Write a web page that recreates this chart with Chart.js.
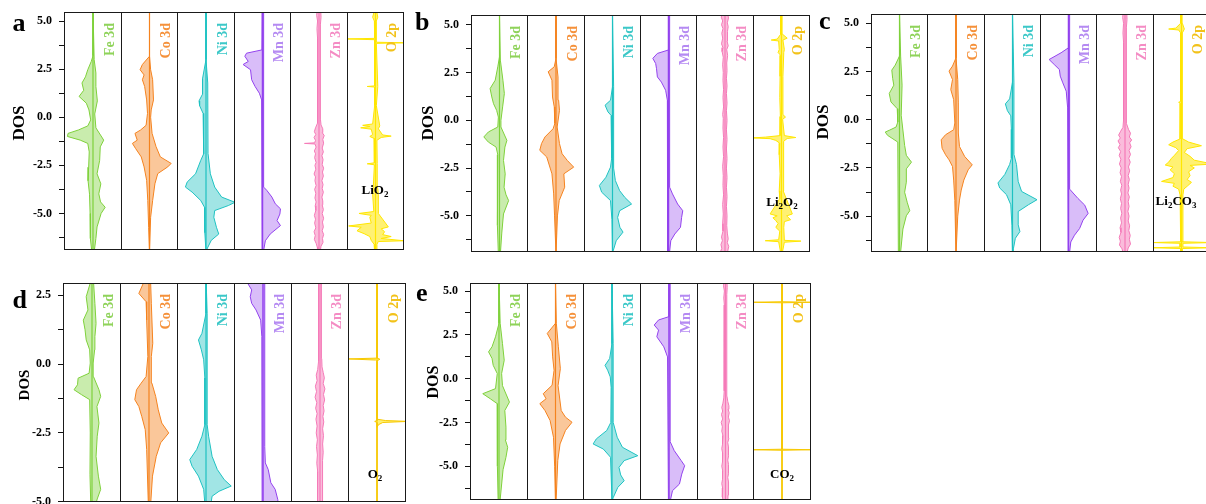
<!DOCTYPE html>
<html><head><meta charset="utf-8">
<script src="https://cdn.jsdelivr.net/npm/chart.js@4.4.1/dist/chart.umd.min.js"></script>
<style>
html,body{margin:0;padding:0;background:#fff;}
#wrap{position:relative;width:1206px;height:504px;overflow:hidden;background:#fff;font-family:"Liberation Serif","Times New Roman",serif;}
canvas{position:absolute;}
.plet{position:absolute;font-weight:bold;font-size:26px;line-height:26px;color:#000;}
.dos{position:absolute;font-weight:bold;color:#000;transform:translate(-50%,-50%) rotate(-90deg);white-space:nowrap;}
.cmp{position:absolute;font-weight:bold;font-size:13px;color:#000;transform:translate(-50%,-50%);white-space:nowrap;}
.cmp sub{font-size:9px;vertical-align:-3px;line-height:0;}
</style></head>
<body><div id="wrap"></div>
<script>
// ---------- category / tick data ----------
const elements = ['Fe 3d','Co 3d','Ni 3d','Mn 3d','Zn 3d','O 2p'];
const yMajor = [5.0, 2.5, 0.0, -2.5, -5.0];
const yMinor = [3.75, 1.25, -1.25, -3.75, -6.25];
const yMajorD = [2.5, 0.0, -2.5, -5.0];
const yMinorD = [1.25, -1.25, -3.75];
const compounds = ['LiO<sub>2</sub>','Li<sub>2</sub>O<sub>2</sub>','Li<sub>2</sub>CO<sub>3</sub>','O<sub>2</sub>','CO<sub>2</sub>'];

// ---------- DOS data: [energy (eV), DOS] for spin-up (left) and spin-down (right) ----------
// panel a
const aFeUp=[[5.6,0],[3.2,0],[2.9,0.6],[2.47,1.8],[2.1,2.6],[1.78,3.8],[1.4,3.2],[1.08,4.8],[0.73,2.3],[0.38,1.4],[-0.14,0.8],[-0.45,1.8],[-0.66,5],[-0.84,8.6],[-1.0,8.8],[-1.19,4.4],[-1.36,1.8],[-1.8,1.3],[-2.6,1.5],[-3.3,1.7],[-4.0,1.2],[-5.0,1.0],[-5.8,0.8],[-6.3,1.0],[-7,0.4]];
const aFeDn=[[5.6,0],[3.0,0.4],[2.3,1.0],[1.6,1.0],[0.85,1.5],[0.17,0.6],[-0.55,1.0],[-1.19,3.7],[-1.54,2.5],[-2.24,2.3],[-2.94,1.4],[-3.46,2.7],[-3.98,2.0],[-4.4,2.6],[-4.68,4.2],[-5.0,2.8],[-5.7,1.4],[-6.3,1.0],[-7,0.4]];
const aCoUp=[[5.6,0],[3.17,0],[2.74,2.5],[2.47,3.3],[2.2,1.9],[1.95,2.5],[1.6,1.7],[0.9,1.0],[0.2,0.7],[-0.42,1.2],[-0.66,3.1],[-0.84,5.1],[-1.19,4.3],[-1.36,6],[-1.62,4.9],[-2.06,2.9],[-2.58,1.9],[-3.28,1.0],[-4.33,0.6],[-5.72,0.3],[-7,0]];
const aCoDn=[[5.6,0],[3.17,0],[2.47,0.4],[1.95,1.1],[0.9,1.4],[0.38,0.6],[0,0.4],[-0.84,0.9],[-1.53,2.3],[-2.06,3.8],[-2.4,7.6],[-2.58,6.4],[-2.93,2.9],[-3.46,1.9],[-4.33,1.1],[-5.2,0.4],[-7,0.1]];
const aNiUp=[[5.6,0],[3.0,0],[2.0,1.2],[1.2,1.2],[0.85,2.4],[0.6,2.2],[0.2,1.0],[-0.5,0.8],[-1.9,0.8],[-2.24,1.8],[-2.94,3.6],[-3.37,6.5],[-3.63,7.1],[-3.89,4.8],[-4.33,1.8],[-4.68,0.5],[-5.2,0.4],[-6.0,0.4],[-7,0]];
const aNiDn=[[5.6,0],[3.0,0],[1.78,0.6],[-1.88,0.7],[-2.94,1.5],[-3.63,3.0],[-4.15,5.4],[-4.42,10],[-4.59,7.7],[-4.85,3.0],[-5.2,2.7],[-5.72,3.6],[-6.07,4.4],[-6.4,1.8],[-6.8,0.5],[-7,0.3]];
const aMnUp=[[5.6,0.1],[3.5,0.2],[3.33,5.6],[3.17,6.2],[2.9,5.0],[2.74,6.8],[2.47,4.2],[1.95,3.8],[1.6,2.6],[1.25,1.1],[0.9,0.3],[-7,0.1]];
const aMnDn=[[5.6,0.4],[-3.63,0.4],[-3.8,1.5],[-4.15,3.3],[-4.5,4.5],[-4.76,6.3],[-5.03,6.1],[-5.37,5.1],[-5.63,6.3],[-6.07,2.7],[-6.42,1.0],[-7,0.3]];
const aZnUp=[[5.6,0.6],[5.3,0.8],[5.0,0.5],[4.6,0.7],[4.1,0.5],[3.7,0.6],[3.2,0.4],[2.6,0.5],[2.0,0.4],[1.4,0.5],[0.8,0.4],[0.2,0.5],[-0.3,0.6],[-0.55,1.2],[-0.75,1.6],[-0.9,1.1],[-1.05,1.7],[-1.2,1.2],[-1.33,1.5],[-1.36,5.0],[-1.39,1.4],[-1.55,1.0],[-1.75,1.6],[-1.9,1.2],[-2.1,1.5],[-2.35,1.0],[-2.5,1.4],[-2.7,1.1],[-2.95,1.7],[-3.1,1.2],[-3.3,1.4],[-3.55,1.0],[-3.75,1.5],[-3.95,1.1],[-4.2,1.4],[-4.4,1.0],[-4.6,1.3],[-4.85,1.1],[-5.1,1.6],[-5.3,1.2],[-5.5,1.5],[-5.75,1.1],[-5.95,1.7],[-6.15,1.3],[-6.35,1.6],[-6.55,1.0],[-6.75,0.6],[-7,0.4]];
const aZnDn=[[5.6,0.6],[5.2,0.7],[4.8,0.5],[4.3,0.6],[3.9,0.4],[3.4,0.6],[2.9,0.4],[2.3,0.5],[1.7,0.4],[1.1,0.5],[0.5,0.4],[-0.1,0.5],[-0.4,0.7],[-0.6,1.3],[-0.8,1.1],[-0.95,1.8],[-1.15,1.3],[-1.35,1.6],[-1.6,1.1],[-1.8,1.5],[-2.0,1.0],[-2.2,1.4],[-2.45,1.1],[-2.65,1.6],[-2.85,1.2],[-3.05,1.5],[-3.3,1.0],[-3.5,1.4],[-3.7,1.1],[-3.9,1.5],[-4.15,1.0],[-4.35,1.3],[-4.55,1.1],[-4.8,1.5],[-5.0,1.1],[-5.25,1.6],[-5.45,1.2],[-5.7,1.5],[-5.9,1.1],[-6.1,1.6],[-6.3,1.2],[-6.5,1.4],[-6.7,0.7],[-7,0.4]];
const aOUp=[[5.6,0.3],[5.2,1.0],[5.0,0.4],[4.1,0.3],[4.07,10],[4.03,0.3],[3.0,0.3],[1.63,0.3],[1.6,2.9],[1.57,0.3],[0.6,0.3],[-0.35,1.0],[-0.42,4.5],[-0.48,2.0],[-0.55,5.2],[-0.62,1.5],[-0.9,1.0],[-1.0,2.0],[-1.1,0.5],[-2.37,0.4],[-2.42,2.9],[-2.47,0.4],[-3.7,0.8],[-4.0,1.0],[-4.9,0.6],[-5.0,5.8],[-5.1,1.5],[-5.2,2.0],[-5.5,1.5],[-5.65,9.4],[-5.72,5],[-5.9,6.5],[-6.05,4],[-6.2,2.0],[-6.4,1.5],[-6.6,0.5],[-7,0.3]];
const aODn=[[5.6,0.3],[5.2,0.8],[5.0,0.3],[3.9,0.3],[3.87,10],[3.84,0.3],[1.6,0.8],[0.6,0.3],[-0.45,1.5],[-0.6,1.0],[-0.92,2.5],[-0.98,5.5],[-1.05,2.0],[-1.2,0.5],[-2.4,0.6],[-3.7,0.8],[-4.0,1.0],[-5.0,1.0],[-5.7,4.5],[-5.8,2.0],[-5.95,3.2],[-6.1,2.5],[-6.2,5.5],[-6.3,2.0],[-6.42,10],[-6.46,1],[-6.6,0.5],[-7,0.3]];
// panel b
const bFeUp=[[5.6,0],[3.32,0],[2.8,0.6],[2.1,1.5],[1.66,3.3],[1.22,2.7],[0.87,2.1],[0.52,1.0],[0.17,0.4],[-0.35,0.6],[-0.61,3.9],[-0.87,5.5],[-1.14,3.9],[-1.4,1.2],[-1.8,0.6],[-3.0,0.8],[-4.5,0.6],[-5.5,0.8],[-7,0.4]];
const bFeDn=[[5.6,0],[3.15,0.3],[2.1,1.2],[1.4,1.7],[0.7,1.1],[0,0.5],[-0.35,0.5],[-1.05,2.6],[-1.4,1.9],[-2.1,1.4],[-2.8,2.0],[-3.5,1.6],[-3.9,2.3],[-4.2,3.2],[-4.9,1.4],[-5.9,0.8],[-7,0.3]];
const bCoUp=[[5.6,0],[3.24,0],[2.8,0.6],[2.54,2.7],[2.1,1.4],[1.22,1.2],[0.7,0.6],[-0.17,0.4],[-0.44,1.0],[-0.87,3.8],[-1.22,5.0],[-1.57,5.6],[-1.92,3.2],[-2.8,1.4],[-3.85,0.8],[-5.0,0.5],[-7,0]];
const bCoDn=[[5.6,0],[3.24,0],[2.27,0.7],[1.05,0.9],[0.52,1.2],[-0.35,0.4],[-1.22,1.2],[-1.75,2.1],[-2.1,3.9],[-2.45,6.1],[-2.8,2.7],[-3.5,3.0],[-4.2,1.1],[-5.0,0.5],[-7,0.2]];
const bNiUp=[[5.6,0],[1.75,0],[1.05,0.7],[0.79,2.6],[0.44,1.6],[0.26,0.5],[-0.5,0.3],[-2.0,0.3],[-2.45,0.7],[-2.98,2.3],[-3.41,4.6],[-3.76,3.8],[-4.2,0.7],[-5.2,0.2],[-7,0]];
const bNiDn=[[5.6,0],[1.75,0.4],[-2.5,0.4],[-3.15,1.0],[-3.68,2.5],[-4.03,4.3],[-4.38,6.7],[-4.73,2.5],[-5.08,1.8],[-5.6,2.6],[-5.85,3.7],[-6.3,1.3],[-6.8,0.3],[-7,0.2]];
const bMnUp=[[5.6,0],[3.68,0],[3.5,3.9],[3.24,5.5],[2.97,4.5],[2.7,4.2],[2.27,3.9],[2.0,2.5],[1.57,1.0],[1.05,0.4],[-7,0.3]];
const bMnDn=[[5.6,0.4],[-3.5,0.4],[-3.85,1.4],[-4.38,3.2],[-4.73,5.0],[-5.08,4.6],[-5.6,4.2],[-5.95,2.2],[-6.3,0.8],[-7,0.3]];
const bZnUp=[[5.6,0.9],[5.4,1.3],[5.2,0.8],[5.0,1.2],[4.8,0.7],[4.55,1.1],[4.3,0.8],[4.0,1.2],[3.8,0.7],[3.6,1.0],[3.3,0.6],[2.9,0.8],[2.5,0.6],[2.1,0.7],[1.6,0.5],[1.2,0.7],[0.7,0.5],[0.3,0.8],[0.1,0.6],[-0.4,0.7],[-0.9,0.5],[-1.4,0.7],[-1.9,0.5],[-2.4,0.8],[-2.9,0.6],[-3.4,0.7],[-3.9,0.5],[-4.4,0.8],[-4.9,0.6],[-5.4,0.8],[-5.8,0.7],[-6.1,1.2],[-6.3,0.9],[-6.5,1.4],[-6.7,1.1],[-6.85,1.5],[-7,0.8]];
const bZnDn=[[5.6,0.9],[5.35,1.2],[5.1,0.8],[4.9,1.1],[4.65,0.7],[4.4,1.0],[4.15,0.7],[3.9,1.1],[3.7,0.6],[3.4,0.9],[3.0,0.6],[2.6,0.7],[2.2,0.5],[1.8,0.7],[1.4,0.5],[0.9,0.7],[0.5,0.5],[0.0,0.7],[-0.5,0.5],[-1.0,0.7],[-1.5,0.5],[-2.0,0.7],[-2.5,0.5],[-3.0,0.7],[-3.5,0.5],[-4.0,0.7],[-4.5,0.5],[-5.0,0.7],[-5.5,0.6],[-5.9,0.8],[-6.2,1.1],[-6.4,0.8],[-6.6,1.3],[-6.8,1.0],[-7,0.8]];
const bOUp=[[5.6,0.2],[4.5,0.3],[4.25,1.5],[4.2,3.6],[4.15,1.0],[3.7,0.8],[3.55,1.2],[3.4,0.3],[2.3,0.5],[1.2,0.6],[0.2,0.4],[-0.8,0.5],[-0.88,5.7],[-0.92,10],[-0.96,4],[-1.05,2],[-1.2,0.6],[-1.8,0.8],[-2.8,0.5],[-3.7,0.8],[-4.1,0.6],[-4.9,4.0],[-5.0,1.5],[-5.1,3.0],[-5.25,2.0],[-5.4,1.2],[-5.6,2.0],[-5.8,0.6],[-6.25,1.0],[-6.3,5.7],[-6.35,1.0],[-7,0.2]];
const bODn=[[5.6,0.2],[4.5,0.4],[4.3,2.0],[4.2,0.5],[3.7,1.0],[3.55,0.8],[2.3,0.5],[0.3,0.5],[0.17,1.4],[0.05,0.4],[-0.8,1.0],[-0.9,5.0],[-0.95,2.0],[-1.1,0.8],[-1.8,0.7],[-3.7,0.6],[-4.9,3.8],[-5.0,1.8],[-5.2,3.2],[-5.3,1.0],[-5.6,0.8],[-6.28,1],[-6.32,6.8],[-6.38,1],[-7,0.2]];
// panel c
const cFeUp=[[5.6,0],[3.3,0],[2.83,1.5],[2.57,2.7],[2.14,2.4],[1.79,2.0],[1.36,3.6],[0.92,3.0],[0.57,0.8],[-0.12,0.6],[-0.38,1.2],[-0.55,3.6],[-0.64,5.0],[-0.81,4.2],[-1.16,0.6],[-7,0.4]];
const cFeDn=[[5.6,0],[3.3,0.4],[1.79,0.9],[0.23,0.6],[-1.33,1.8],[-1.85,2.4],[-2.2,4.2],[-2.55,2.4],[-3.24,2.4],[-3.76,1.8],[-4.28,2.7],[-4.72,3.6],[-4.98,2.4],[-5.67,1.2],[-7,0.3]];
const cCoUp=[[5.6,0],[3.21,0],[2.78,1.2],[2.52,2.4],[2.08,1.2],[1.56,1.8],[1.04,0.8],[-0.17,0.4],[-0.52,0.8],[-0.78,3.6],[-1.04,5.1],[-1.48,4.8],[-1.82,3.6],[-2.08,2.4],[-2.43,1.2],[-3.13,0.8],[-4.2,0.4],[-7,0]];
const cCoDn=[[5.6,0],[3.21,0],[2.08,0.6],[0.87,0.8],[-0.69,0.8],[-1.39,1.2],[-1.91,3.0],[-2.34,5.6],[-2.6,4.2],[-3.13,2.7],[-3.65,1.8],[-4.17,1.2],[-5.0,0.6],[-7,0.1]];
const cNiUp=[[5.6,0],[1.95,0],[1.08,1.0],[0.82,2.5],[0.47,1.8],[0.2,0.6],[-0.5,0.4],[-2.0,0.4],[-2.32,1.0],[-2.84,2.7],[-3.28,5.1],[-3.54,4.5],[-3.89,2.1],[-4.41,0.6],[-5.5,0.2],[-7,0]];
const cNiDn=[[5.6,0],[1.95,0.5],[-1.8,0.5],[-2.32,1.4],[-3.2,2.0],[-3.72,3.2],[-4.15,8.6],[-4.41,5.6],[-4.76,2.0],[-5.45,2.0],[-5.8,2.6],[-6.15,1.0],[-6.7,0.3],[-7,0.2]];
const cMnUp=[[5.6,0],[3.73,0],[3.47,2.6],[3.12,6.8],[2.86,5.0],[2.6,3.2],[2.26,2.9],[1.91,2.0],[1.48,0.8],[0.61,0.3],[-7,0.1]];
const cMnDn=[[5.6,0.4],[-3.6,0.4],[-4.08,3.3],[-4.43,5.7],[-4.86,6.9],[-5.21,5.1],[-5.64,3.9],[-5.99,2.1],[-6.34,0.8],[-7,0.3]];
const cZnUp=[[5.6,0.6],[5.3,0.8],[5.0,0.5],[4.5,0.7],[4.0,0.5],[3.5,0.6],[3.0,0.4],[2.5,0.6],[2.0,0.4],[1.5,0.5],[1.0,0.4],[0.5,0.5],[0.0,0.5],[-0.4,0.7],[-0.6,1.5],[-0.8,2.2],[-0.95,1.6],[-1.1,2.4],[-1.3,1.7],[-1.45,2.3],[-1.65,1.5],[-1.85,2.0],[-2.05,1.4],[-2.3,1.9],[-2.5,1.3],[-2.75,1.7],[-2.95,1.2],[-3.2,1.6],[-3.4,1.1],[-3.65,1.5],[-3.85,1.2],[-4.1,1.6],[-4.35,1.2],[-4.6,1.5],[-4.85,1.1],[-5.1,1.5],[-5.35,1.2],[-5.6,1.7],[-5.85,1.4],[-6.1,2.0],[-6.3,1.6],[-6.5,1.9],[-6.7,1.0],[-7,0.5]];
const cZnDn=[[5.6,0.6],[5.2,0.7],[4.8,0.5],[4.3,0.6],[3.8,0.4],[3.3,0.6],[2.8,0.4],[2.3,0.5],[1.8,0.4],[1.3,0.5],[0.8,0.4],[0.3,0.5],[-0.2,0.5],[-0.5,1.2],[-0.7,1.9],[-0.9,1.5],[-1.05,2.3],[-1.2,1.6],[-1.4,2.1],[-1.6,1.4],[-1.8,1.9],[-2.0,1.3],[-2.2,1.8],[-2.45,1.2],[-2.65,1.6],[-2.9,1.1],[-3.1,1.5],[-3.35,1.1],[-3.55,1.4],[-3.8,1.0],[-4.0,1.5],[-4.25,1.1],[-4.5,1.4],[-4.75,1.0],[-5.0,1.4],[-5.25,1.1],[-5.5,1.6],[-5.75,1.3],[-6.0,1.8],[-6.2,1.5],[-6.45,1.9],[-6.65,1.1],[-7,0.5]];
const cOUp=[[5.6,0.2],[5.0,0.3],[4.75,2.0],[4.7,4.5],[4.65,1.0],[4.5,0.3],[0.95,0.3],[0.9,1.0],[0.85,0.3],[-1.0,0.5],[-1.16,3.0],[-1.3,4.5],[-1.45,2.0],[-1.6,1.0],[-1.85,2.5],[-2.0,3.5],[-2.2,4.5],[-2.35,5.7],[-2.45,3.0],[-2.6,4.0],[-2.8,2.5],[-3.0,3.0],[-3.2,7.0],[-3.3,2.5],[-3.45,3.0],[-3.6,1.0],[-3.9,0.5],[-6.33,0.3],[-6.37,10],[-6.41,0.5],[-6.6,0.5],[-6.64,10],[-6.68,0.3],[-7,0.2]];
const cODn=[[5.6,0.2],[5.0,0.3],[4.7,1.0],[4.5,0.3],[-1.0,0.5],[-1.16,2.5],[-1.35,7.0],[-1.5,2.0],[-1.7,1.0],[-1.9,3.0],[-2.1,4.5],[-2.3,11],[-2.37,3.0],[-2.5,4.5],[-2.7,2.5],[-2.9,3.0],[-3.1,2.0],[-3.25,3.5],[-3.45,2.0],[-3.6,0.8],[-3.9,0.5],[-6.33,0.3],[-6.37,11],[-6.41,0.5],[-6.6,0.5],[-6.64,11],[-6.68,0.3],[-7,0.2]];
// panel d
const dFeUp=[[3.2,0.3],[2.95,0.6],[2.45,2.0],[1.97,1.4],[1.6,3.0],[1.25,2.4],[0.88,2.0],[0.52,0.8],[0.04,0.6],[-0.33,1.0],[-0.51,4.8],[-0.75,5.0],[-0.93,6.2],[-1.11,3.6],[-1.29,0.8],[-2.5,0.6],[-4.0,0.7],[-5.2,0.4]];
const dFeDn=[[3.2,0.4],[2.21,1.0],[1.48,1.4],[1.0,1.0],[0.52,0.9],[0.04,0.4],[-0.45,0.5],[-0.93,2.4],[-1.17,3.0],[-1.54,1.7],[-2.14,2.4],[-2.62,1.8],[-3.35,1.4],[-4.07,2.2],[-4.55,3.0],[-4.9,1.8],[-5.2,1.0]];
const dCoUp=[[3.2,0.5],[2.93,2.0],[2.57,3.5],[2.27,1.0],[1.6,0.8],[0.28,0.4],[-0.45,1.0],[-0.69,2.7],[-0.93,4.3],[-1.29,4.9],[-1.54,3.5],[-1.9,2.5],[-2.38,1.3],[-3.1,0.8],[-5.2,0.2]];
const dCoDn=[[3.2,0.5],[2.21,0.8],[0.76,1.3],[0.28,0.8],[-0.69,1.0],[-1.17,2.3],[-1.66,3.2],[-2.14,4.4],[-2.5,6.8],[-2.86,4.0],[-3.35,2.5],[-4.07,1.2],[-5.2,0.5]];
const dNiUp=[[3.2,0],[1.85,0],[1.12,1.4],[0.88,2.6],[0.52,1.6],[0.16,0.8],[-0.5,0.4],[-2.2,0.4],[-2.62,1.4],[-3.1,3.2],[-3.47,5.6],[-3.71,4.8],[-4.07,2.6],[-4.55,0.8],[-5.2,0.3]];
const dNiDn=[[3.2,0],[1.85,0.4],[-2.2,0.4],[-2.62,0.9],[-3.35,2.1],[-3.83,3.9],[-4.2,6.3],[-4.43,8.7],[-4.62,4.5],[-4.8,2.1],[-5.2,1.5]];
const dMnUp=[[3.2,5.6],[2.96,5.4],[2.7,3.9],[2.45,4.4],[2.21,3.9],[1.97,2.4],[1.6,0.8],[1.0,0.4],[-5.2,0.3]];
const dMnDn=[[3.2,0.6],[-3.0,0.6],[-3.59,0.8],[-3.83,1.8],[-4.31,2.7],[-4.55,4.2],[-4.92,5.1],[-5.2,5.3]];
const dZnUp=[[3.2,0.5],[2.8,0.6],[2.4,0.4],[2.0,0.6],[1.6,0.4],[1.2,0.5],[0.8,0.4],[0.4,0.6],[0.1,0.5],[-0.2,0.8],[-0.4,1.3],[-0.6,1.0],[-0.8,1.6],[-1.0,1.2],[-1.2,1.7],[-1.4,1.1],[-1.6,1.5],[-1.8,1.0],[-2.0,1.4],[-2.25,1.0],[-2.5,1.3],[-2.75,0.9],[-3.0,1.2],[-3.3,0.9],[-3.6,1.1],[-3.9,0.8],[-4.2,1.0],[-4.5,0.8],[-4.8,0.9],[-5.2,0.7]];
const dZnDn=[[3.2,0.5],[2.7,0.6],[2.2,0.4],[1.8,0.5],[1.4,0.4],[1.0,0.6],[0.6,0.4],[0.2,0.6],[-0.1,0.7],[-0.3,1.1],[-0.5,1.5],[-0.7,1.1],[-0.9,1.7],[-1.1,1.2],[-1.3,1.6],[-1.5,1.1],[-1.7,1.4],[-1.9,1.0],[-2.1,1.3],[-2.35,0.9],[-2.6,1.2],[-2.9,0.9],[-3.2,1.1],[-3.5,0.8],[-3.8,1.0],[-4.1,0.8],[-4.4,1.0],[-4.7,0.8],[-5.2,0.7]];
const dOUp=[[3.2,0],[0.22,0],[0.19,10],[0.15,0.5],[0.1,0],[-2.05,0],[-2.08,0.8],[-2.12,0],[-5.2,0]];
const dODn=[[3.2,0],[0.22,0],[0.18,1.0],[0.12,0],[-2.0,0],[-2.05,3.0],[-2.08,11],[-2.12,2.0],[-2.2,0.5],[-2.3,0],[-5.2,0]];
// panel e
const eFeUp=[[5.6,0],[3.16,0],[2.39,1.2],[1.82,2.4],[1.53,3.6],[1.15,2.4],[0.76,2.0],[0.29,0.6],[-0.57,1.2],[-0.86,5.6],[-1.15,3.0],[-1.43,0.6],[-3.0,0.6],[-5.0,0.5],[-7,0.3]];
const eFeDn=[[5.6,0],[3.16,0.4],[2.0,1.2],[1.05,1.8],[0.29,0.9],[-0.4,1.2],[-1.34,3.6],[-1.82,2.0],[-2.77,2.4],[-3.5,2.2],[-3.92,3.0],[-4.49,2.4],[-5.2,1.4],[-6.9,0.4],[-7,0.3]];
const eCoUp=[[5.6,0],[3.16,0],[2.58,2.9],[2.1,1.3],[1.24,1.0],[0.48,0.5],[-0.38,1.2],[-0.86,4.3],[-1.15,3.3],[-1.43,5.5],[-1.82,3.7],[-2.39,1.9],[-3.35,0.7],[-5.0,0.3],[-7,0]];
const eCoDn=[[5.6,0],[3.16,0.3],[1.82,1.0],[0.57,1.7],[-0.4,0.9],[-1.82,2.0],[-2.2,3.5],[-2.49,5.8],[-2.96,3.5],[-3.73,1.6],[-4.68,0.8],[-7,0.2]];
const eNiUp=[[5.6,0],[2.0,0],[1.15,0.8],[0.76,2.4],[0.48,1.5],[0.1,0.6],[-0.5,0.3],[-2.5,0.4],[-2.96,1.8],[-3.44,5.4],[-3.73,6.5],[-4.02,3.0],[-4.49,0.5],[-7,0]];
const eNiDn=[[5.6,0],[2.0,0.4],[-2.5,0.4],[-3.35,1.8],[-3.92,3.6],[-4.4,8.9],[-4.68,4.2],[-5.07,2.4],[-5.5,3.0],[-5.83,4.2],[-6.21,2.0],[-6.8,0.4],[-7,0.2]];
const eMnUp=[[5.6,0],[3.54,0],[3.35,3.6],[3.06,5.1],[2.77,3.6],[2.39,4.2],[1.82,1.8],[1.24,0.5],[-7,0.2]];
const eMnDn=[[5.6,0.4],[-3.6,0.4],[-4.11,1.8],[-4.68,4.2],[-4.97,5.4],[-5.45,4.4],[-6.02,3.6],[-6.4,1.2],[-7,0.4]];
const eZnUp=[[5.6,0.5],[5.3,0.7],[5.0,0.4],[4.6,0.6],[4.2,0.4],[3.8,0.5],[3.3,0.4],[2.8,0.5],[2.3,0.4],[1.8,0.5],[1.3,0.4],[0.8,0.5],[0.3,0.4],[-0.2,0.5],[-0.7,0.4],[-1.1,0.6],[-1.4,0.9],[-1.65,1.3],[-1.85,1.0],[-2.05,1.4],[-2.3,1.0],[-2.5,1.5],[-2.75,1.1],[-3.0,1.3],[-3.25,0.9],[-3.5,1.2],[-3.75,0.9],[-4.0,1.3],[-4.25,1.0],[-4.5,1.2],[-4.75,0.9],[-5.0,1.3],[-5.25,1.0],[-5.5,1.2],[-5.75,0.9],[-6.0,1.3],[-6.25,1.0],[-6.5,1.2],[-6.75,1.0],[-7,0.8]];
const eZnDn=[[5.6,0.5],[5.2,0.6],[4.8,0.4],[4.4,0.5],[4.0,0.4],[3.5,0.5],[3.0,0.4],[2.5,0.5],[2.0,0.4],[1.5,0.5],[1.0,0.4],[0.5,0.5],[0.0,0.4],[-0.5,0.5],[-1.0,0.5],[-1.3,0.8],[-1.55,1.2],[-1.75,0.9],[-1.95,1.3],[-2.2,1.0],[-2.4,1.4],[-2.65,1.0],[-2.9,1.2],[-3.15,0.9],[-3.4,1.2],[-3.65,0.8],[-3.9,1.2],[-4.15,0.9],[-4.4,1.1],[-4.65,0.8],[-4.9,1.2],[-5.15,0.9],[-5.4,1.1],[-5.65,0.8],[-5.9,1.2],[-6.15,0.9],[-6.4,1.1],[-6.65,0.9],[-7,0.8]];
const eOUp=[[5.6,0],[4.39,0],[4.36,11],[4.33,0],[-4.03,0],[-4.06,11],[-4.09,0],[-7,0]];
const eODn=[[5.6,0],[4.39,0],[4.36,11],[4.33,0],[-4.03,0],[-4.06,11],[-4.09,0],[-7,0]];

// ---------- styles ----------
const lineColors  = ['#7fd13b','#f5831f','#1ec2c2','#9342ee','#f57ab8','#ffe600'];
const fillColors  = ['rgba(127,209,59,0.42)','rgba(245,131,31,0.45)','rgba(30,194,194,0.42)','rgba(147,66,238,0.35)','rgba(245,122,184,0.5)','rgba(255,230,0,0.55)'];
const labelColors = ['#8fd35a','#f5913a','#3cc8c8','#b58af2','#f48cc4','#f2c21a'];

// ---------- layout (pixels) ----------
const layouts = [
  {left:64,  right:403,  top:12,  bottom:249, ymin:-6.9,  ymax:5.47, major:yMajor,  minor:yMinor,  letter:'a', lx:12.5, ly:10, dosX:18.5, dosY:123, dosF:17, cx:375, cy:190, oCol:'#ffe600'},
  {left:471, right:809,  top:15,  bottom:251, ymin:-6.89, ymax:5.51, major:yMajor,  minor:yMinor,  letter:'b', lx:415, ly:9,  dosX:427.5, dosY:123, dosF:17, cx:782, cy:202, oCol:'#ffe600'},
  {left:871, right:1209, top:14,  bottom:251, ymin:-6.86, ymax:5.48, major:yMajor,  minor:yMinor,  letter:'c', lx:819, ly:8,  dosX:823, dosY:122, dosF:17, cx:1176, cy:201, oCol:'#ffe600'},
  {left:63,  right:404.5,top:283, bottom:501, ymin:-5.01, ymax:2.95, major:yMajorD, minor:yMinorD, letter:'d', lx:12.5, ly:286.5, dosX:23.5, dosY:385, dosF:15, cx:375, cy:474, oCol:'#f7c800'},
  {left:470, right:810,  top:283, bottom:499, ymin:-6.93, ymax:5.46, major:yMajor,  minor:yMinor,  letter:'e', lx:416, ly:280, dosX:433, dosY:382, dosF:16, cx:782, cy:474, oCol:'#f7c800'}
];
const panelData = [
  [[aFeUp,aFeDn],[aCoUp,aCoDn],[aNiUp,aNiDn],[aMnUp,aMnDn],[aZnUp,aZnDn],[aOUp,aODn]],
  [[bFeUp,bFeDn],[bCoUp,bCoDn],[bNiUp,bNiDn],[bMnUp,bMnDn],[bZnUp,bZnDn],[bOUp,bODn]],
  [[cFeUp,cFeDn],[cCoUp,cCoDn],[cNiUp,cNiDn],[cMnUp,cMnDn],[cZnUp,cZnDn],[cOUp,cODn]],
  [[dFeUp,dFeDn],[dCoUp,dCoDn],[dNiUp,dNiDn],[dMnUp,dMnDn],[dZnUp,dZnDn],[dOUp,dODn]],
  [[eFeUp,eFeDn],[eCoUp,eCoDn],[eNiUp,eNiDn],[eMnUp,eMnDn],[eZnUp,eZnDn],[eOUp,eODn]]
];

// closed outline: spin-up (left, negative) going down, spin-down (right, positive) going up
function outline(up, dn) {
  const pts = [];
  up.slice().sort((p, q) => q[0] - p[0]).forEach(([e, v]) => pts.push({x: -v, y: e}));
  dn.slice().sort((p, q) => p[0] - q[0]).forEach(([e, v]) => pts.push({x: v, y: e}));
  return pts;
}

const framePlugin = {
  id: 'subFrame',
  afterDatasetsDraw(chart, args, opts) {
    const ca = chart.chartArea, ctx = chart.ctx;
    ctx.save();
    ctx.strokeStyle = '#1a1a1a';
    ctx.lineWidth = 1;
    ctx.strokeRect(ca.left + 0.5, ca.top + 0.5, ca.right - ca.left - 1, ca.bottom - ca.top - 1);
    ctx.restore();
  },
  afterDraw(chart, args, opts) {
    const ca = chart.chartArea, ctx = chart.ctx;
    ctx.save();
    ctx.font = 'bold 14px "Liberation Serif", "Times New Roman", serif';
    ctx.fillStyle = opts.color;
    ctx.translate(ca.right - 12, ca.top + 11);
    ctx.rotate(-Math.PI / 2);
    ctx.textAlign = 'right';
    ctx.textBaseline = 'middle';
    ctx.fillText(opts.label, 0, 0);
    ctx.restore();
  }
};

const wrap = document.getElementById('wrap');
const AXW = 46;

layouts.forEach((L, p) => {
  const w = (L.right - L.left) / 6;
  const isD = L.letter === 'd';
  for (let i = 0; i < 6; i++) {
    const x0 = Math.round(L.left + i * w), x1 = Math.round(L.left + (i + 1) * w);
    const first = i === 0;
    const extraB = (first && isD) ? 9 : 0;
    const cw = (x1 - x0 + 1) + (first ? AXW : 0);
    const ch = (L.bottom - L.top + 1) + extraB;
    const cv = document.createElement('canvas');
    cv.width = cw; cv.height = ch;
    cv.style.left = (x0 - (first ? AXW : 0)) + 'px';
    cv.style.top = L.top + 'px';
    cv.style.width = cw + 'px'; cv.style.height = ch + 'px';
    wrap.appendChild(cv);
    const [up, dn] = panelData[p][i];
    const lc = i === 5 ? L.oCol : lineColors[i];
    const tickVals = L.major.concat(L.minor).sort((a, b) => b - a);
    new Chart(cv, {
      type: 'scatter',
      data: {
        datasets: [
          {data: outline(up, dn), showLine: true, fill: 'shape', borderColor: lc, backgroundColor: fillColors[i], borderWidth: 1, pointRadius: 0, tension: 0},
          {data: [{x: 0, y: L.ymin - 1}, {x: 0, y: L.ymax + 1}], showLine: true, fill: false, borderColor: lc, borderWidth: (i === 3 ? 1.5 : 1.2), pointRadius: 0}
        ]
      },
      options: {
        responsive: false, animation: false, devicePixelRatio: 1, events: [],
        layout: {padding: {left: 0, right: 0, top: 0, bottom: extraB}},
        plugins: {legend: {display: false}, tooltip: {enabled: false},
          subFrame: {label: elements[i], color: labelColors[i]}},
        scales: {
          x: {type: 'linear', min: -10, max: 10, display: false},
          y: {
            type: 'linear', min: L.ymin, max: L.ymax, display: first, position: 'left',
            border: {display: false},
            grid: {display: true, drawOnChartArea: false, drawTicks: true, tickLength: 5, color: '#111', lineWidth: 1},
            afterBuildTicks: (s) => { s.ticks = tickVals.map(v => ({value: v})); },
            afterFit: (s) => { if (first) { s.width = AXW; } else { s.width = 0; } s.paddingTop = 0; s.paddingBottom = 0; },
            ticks: {
              autoSkip: false, padding: 7, color: '#000',
              font: {family: '"Liberation Serif", "Times New Roman", serif', weight: 'bold', size: 12},
              callback: (v) => (L.major.some(m => Math.abs(m - v) < 1e-6) ? v.toFixed(1) : '')
            }
          }
        }
      },
      plugins: [framePlugin]
    });
  }
  // panel letter, axis title, compound label
  const lt = document.createElement('div');
  lt.className = 'plet'; lt.textContent = L.letter;
  lt.style.left = L.lx + 'px'; lt.style.top = L.ly + 'px';
  wrap.appendChild(lt);
  const ds = document.createElement('div');
  ds.className = 'dos'; ds.textContent = 'DOS';
  ds.style.left = L.dosX + 'px'; ds.style.top = L.dosY + 'px'; ds.style.fontSize = L.dosF + 'px';
  wrap.appendChild(ds);
  const cp = document.createElement('div');
  cp.className = 'cmp'; cp.innerHTML = compounds[p];
  cp.style.left = L.cx + 'px'; cp.style.top = L.cy + 'px';
  wrap.appendChild(cp);
});
</script>
</body></html>
